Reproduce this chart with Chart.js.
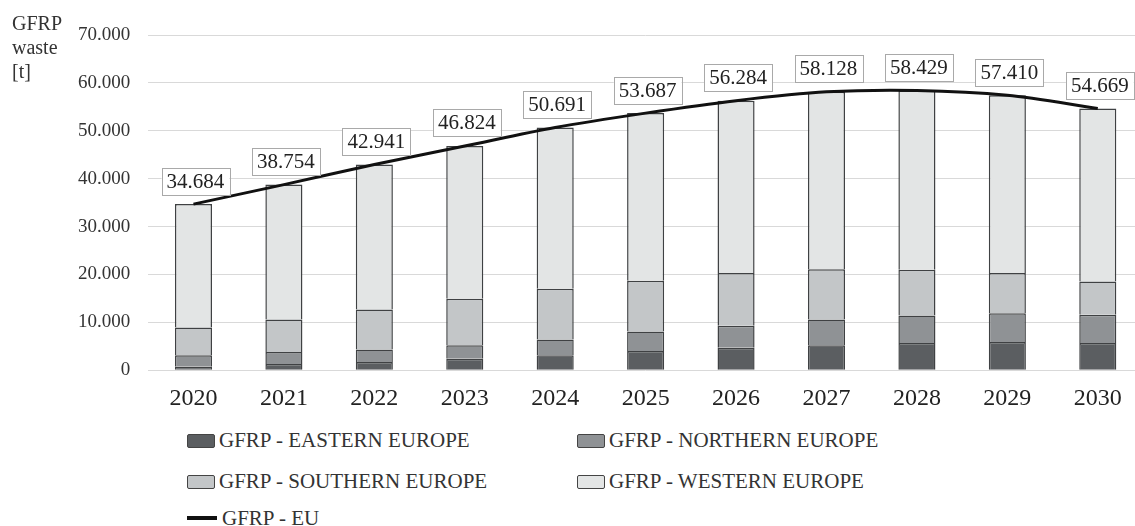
<!DOCTYPE html>
<html lang="en">
<head>
    <meta charset="UTF-8">
    <title>GFRP waste</title>
    <script src="https://cdn.jsdelivr.net/npm/chart.js"></script>
    <style>
        body {
            margin: 0;
            background: #fff;
            overflow: hidden;
            font-family: "Liberation Serif", "DejaVu Serif", "Times New Roman", serif;
        }
        .wrap {
            position: relative;
            width: 1135px;
            height: 526px;
            overflow: hidden;
        }
        .chart-box {
            position: absolute;
            left: 0;
            top: 0;
            width: 1143px;
            height: 419px;
        }
        .ytitle {
            position: absolute;
            left: 12px;
            top: 11px;
            font-size: 20px;
            line-height: 24px;
            color: #333;
        }
        .legend-item {
            position: absolute;
            font-size: 21px;
            color: #333;
            white-space: nowrap;
            line-height: 24px;
        }
        .legend-item .sw {
            display: inline-block;
            width: 26px;
            height: 12px;
            border: 1.5px solid #444;
            border-radius: 2px;
            vertical-align: -1px;
            margin-right: 4px;
        }
        .legend-item .ln {
            display: inline-block;
            width: 30px;
            height: 4px;
            background: #111;
            vertical-align: 5px;
            margin-right: 5px;
        }
    </style>
</head>
<body>
    <div class="wrap">
        <div class="chart-box"><canvas id="wasteChart"></canvas></div>
        <div class="ytitle">GFRP<br>waste<br>[t]</div>
        <div id="legend"></div>
    </div>

    <script>
        // data (t)
        const years = ['2020', '2021', '2022', '2023', '2024', '2025', '2026', '2027', '2028', '2029', '2030'];
        const eastern = [700, 1300, 1700, 2400, 3100, 4000, 4700, 5200, 5700, 5900, 5700];
        const northern = [2400, 2500, 2600, 2800, 3300, 4100, 4600, 5400, 5700, 6000, 5900];
        const southern = [5800, 6800, 8400, 9700, 10600, 10600, 11000, 10500, 9600, 8400, 6900];
        const western = [25784, 28154, 30241, 31924, 33691, 34987, 35984, 37028, 37429, 37110, 36169];
        const euTotal = [34684, 38754, 42941, 46824, 50691, 53687, 56284, 58128, 58429, 57410, 54669];
        const yTicks = [0, 10000, 20000, 30000, 40000, 50000, 60000, 70000];

        const seriesNames = ['GFRP - EASTERN EUROPE', 'GFRP - NORTHERN EUROPE', 'GFRP - SOUTHERN EUROPE', 'GFRP - WESTERN EUROPE', 'GFRP - EU'];
        const fills = ['#5b5e61', '#8f9295', '#c3c6c8', '#e3e5e5'];
        const serif = '"Liberation Serif", "DejaVu Serif", "Times New Roman", serif';

        function fmt(v) {
            return String(v).replace(/\B(?=(\d{3})+(?!\d))/g, '.');
        }

        // boxed value labels above the EU line
        const boxLabels = {
            id: 'boxLabels',
            afterDatasetsDraw(chart) {
                const meta = chart.getDatasetMeta(4);
                const ctx = chart.ctx;
                ctx.save();
                ctx.font = '21px ' + serif;
                ctx.textAlign = 'center';
                ctx.textBaseline = 'middle';
                meta.data.forEach(function(pt, i) {
                    const txt = fmt(euTotal[i]);
                    const w = ctx.measureText(txt).width + 10;
                    const h = 27;
                    const cx = pt.x + 2;
                    const cy = pt.y - 23;
                    ctx.fillStyle = '#fff';
                    ctx.fillRect(cx - w / 2, cy - h / 2, w, h);
                    ctx.strokeStyle = '#a9a9a9';
                    ctx.lineWidth = 1;
                    ctx.strokeRect(Math.round(cx - w / 2) + 0.5, Math.round(cy - h / 2) + 0.5, Math.round(w), h);
                    ctx.fillStyle = '#222';
                    ctx.fillText(txt, cx, cy + 1);
                });
                ctx.restore();
            }
        };

        function barSet(idx, values) {
            return {
                type: 'bar',
                label: seriesNames[idx],
                data: values,
                backgroundColor: fills[idx],
                borderColor: '#3f4143',
                borderWidth: 1.5,
                stack: 'regions',
                barPercentage: 0.41,
                categoryPercentage: 1,
                order: 1
            };
        }

        new Chart(document.getElementById('wasteChart'), {
            data: {
                labels: years,
                datasets: [
                    barSet(0, eastern),
                    barSet(1, northern),
                    barSet(2, southern),
                    barSet(3, western),
                    {
                        type: 'line',
                        label: seriesNames[4],
                        data: euTotal,
                        borderColor: '#111',
                        borderWidth: 3,
                        pointRadius: 0,
                        tension: 0.3,
                        fill: false,
                        stack: 'eu',
                        order: 0
                    }
                ]
            },
            options: {
                responsive: true,
                maintainAspectRatio: false,
                animation: false,
                layout: {
                    padding: { left: 60, top: 35, right: 0, bottom: 0 }
                },
                plugins: {
                    legend: { display: false },
                    tooltip: { enabled: false }
                },
                scales: {
                    x: {
                        stacked: true,
                        grid: { display: false },
                        border: { display: false },
                        ticks: {
                            color: '#222',
                            padding: 6,
                            font: { family: serif, size: 24 }
                        }
                    },
                    y: {
                        stacked: true,
                        min: 0,
                        max: 70000,
                        afterBuildTicks: function(axis) {
                            axis.ticks = yTicks.map(function(v) { return { value: v }; });
                        },
                        grid: { color: '#d9d9d9', lineWidth: 1, drawTicks: false },
                        border: { display: false },
                        ticks: {
                            color: '#333',
                            padding: 18,
                            font: { family: serif, size: 19 },
                            callback: function(v) { return fmt(v); }
                        }
                    }
                }
            },
            plugins: [boxLabels]
        });

        // legend laid out in two columns like the original
        const legendPos = [
            { x: 187, y: 428 },
            { x: 577, y: 428 },
            { x: 187, y: 469 },
            { x: 577, y: 469 },
            { x: 187, y: 506 }
        ];
        const legendEl = document.getElementById('legend');
        seriesNames.forEach(function(name, i) {
            const item = document.createElement('div');
            item.className = 'legend-item';
            item.style.left = legendPos[i].x + 'px';
            item.style.top = legendPos[i].y + 'px';
            const mark = document.createElement('span');
            if (i < 4) {
                mark.className = 'sw';
                mark.style.background = fills[i];
            } else {
                mark.className = 'ln';
            }
            item.appendChild(mark);
            item.appendChild(document.createTextNode(name));
            legendEl.appendChild(item);
        });
    </script>
</body>
</html>
